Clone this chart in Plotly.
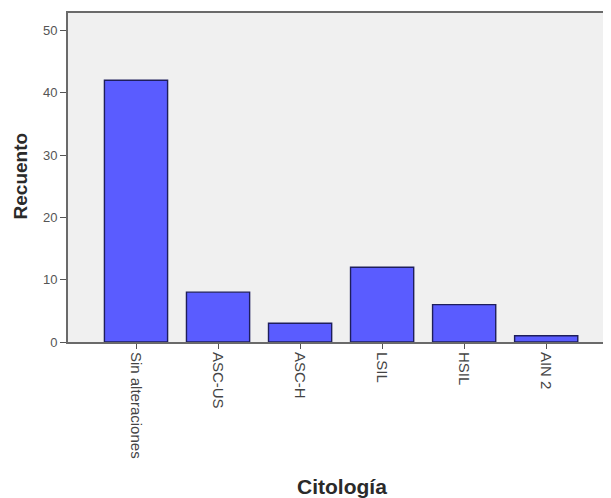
import plotly.graph_objects as go

categories = ["Sin alteraciones", "ASC-US", "ASC-H", "LSIL", "HSIL", "AIN 2"]
counts = [42, 8, 3, 12, 6, 1]
y_ticks = [0, 10, 20, 30, 40, 50]

fig = go.Figure(go.Bar(
    x=list(range(len(categories))),
    y=counts,
    marker=dict(color="#5a5cff", line=dict(color="#1e1e5c", width=1.4)),
    width=0.77,
))

font_family = "Arial, Liberation Sans, sans-serif"

# page body adds an 8px offset, so the figure is sized 8px smaller
fig.update_layout(
    width=603, height=490,
    margin=dict(l=60, r=0, t=5, b=156),
    paper_bgcolor="white",
    plot_bgcolor="#f0f0f0",
    showlegend=False,
    font=dict(family=font_family, size=13, color="#444"),
    xaxis=dict(
        range=[-0.829, 5.79],
        tickmode="array",
        tickvals=list(range(len(categories))),
        ticktext=categories,
        tickangle=90,
        ticks="outside", ticklen=5, tickcolor="#555", tickwidth=1.2,
        showline=True, linecolor="#6a6a6a", linewidth=1.8,
        mirror=True,
        showgrid=False, zeroline=False,
        tickfont=dict(size=15, color="#444"),
    ),
    yaxis=dict(
        range=[0, 52.8],
        tickmode="array",
        tickvals=y_ticks,
        ticks="outside", ticklen=6, tickcolor="#555", tickwidth=1.2,
        showline=True, linecolor="#6a6a6a", linewidth=1.8,
        showgrid=False, zeroline=False,
        tickfont=dict(size=13, color="#555"),
    ),
    annotations=[
        dict(text="<b>Citología</b>", xref="paper", yref="paper",
             x=0.5046, y=-0.4377, xanchor="center", yanchor="middle",
             showarrow=False, font=dict(size=21, color="#2a2a2a")),
        dict(text="<b>Recuento</b>", xref="paper", yref="paper",
             x=-0.0875, y=0.5046, xanchor="center", yanchor="middle",
             showarrow=False, textangle=-90, borderpad=0,
             font=dict(size=19, color="#2a2a2a")),
    ],
)

fig.write_html("out.html")
